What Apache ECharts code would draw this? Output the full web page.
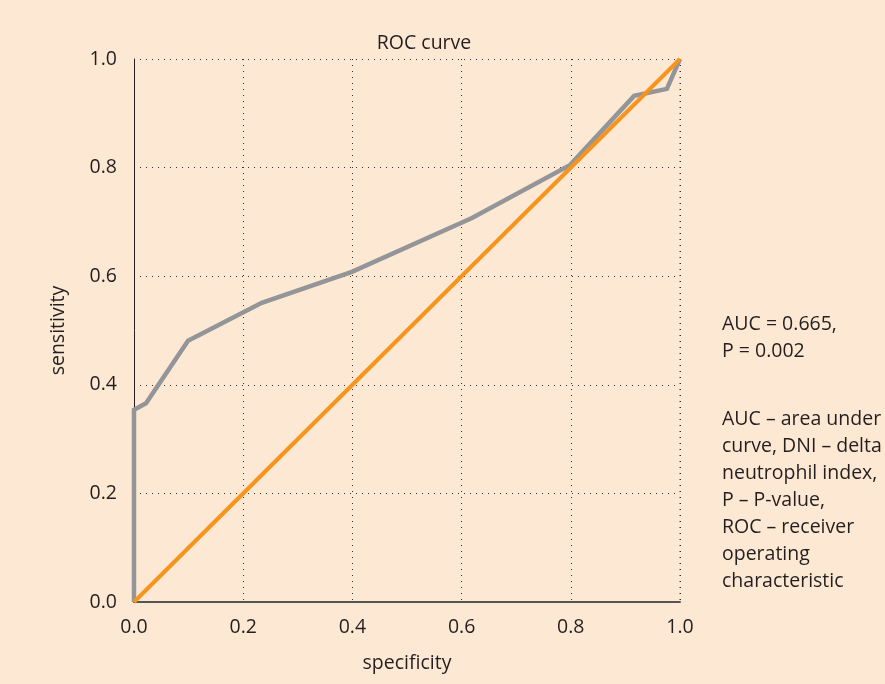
<!DOCTYPE html>
<html>
<head>
    <meta charset="utf-8">
    <title>ROC curve</title>
    <script src="https://cdn.jsdelivr.net/npm/echarts@6/dist/echarts.min.js"></script>
    <style type="text/css">
        * { margin: 0; padding: 0; }
        body { background: #fde9d3; }
        #main { width: 885px; height: 684px; }
    </style>
</head>
<body>
<div id="main"></div>
<script type="text/javascript">
    // ROC 曲线数据 (specificity, sensitivity)
    var rocX = [0, 0, 0.022, 0.099, 0.234, 0.399, 0.619, 0.799, 0.916, 0.976, 1.0];
    var rocY = [0, 0.354, 0.366, 0.481, 0.551, 0.608, 0.707, 0.805, 0.932, 0.945, 1.0];
    // 参考对角线
    var refX = [0, 1];
    var refY = [0, 1];
    var tickLabels = ['0.0', '0.2', '0.4', '0.6', '0.8', '1.0'];
    var statLines = ['AUC = 0.665,', 'P = 0.002'];
    var abbrLines = ['AUC – area under', 'curve, DNI – delta', 'neutrophil index,',
        'P – P-value,', 'ROC – receiver', 'operating', 'characteristic'];

    function pairs(xs, ys) {
        var out = [];
        for (var i = 0; i < xs.length; i++) out.push([xs[i], ys[i]]);
        return out;
    }

    var font = '"Open Sans", "Noto Sans", sans-serif';
    var textColor = '#231f20';
    var dotted = { type: [1, 5], color: '#333', width: 1 };

    var myChart = echarts.init(document.getElementById('main'));
    var option = {
        backgroundColor: '#fde9d3',
        animation: false,
        textStyle: { fontFamily: font },
        title: {
            text: 'ROC curve',
            left: 419,
            top: 28,
            textAlign: 'center',
            textStyle: { fontSize: 19.5, fontWeight: 'normal', color: textColor, fontFamily: font }
        },
        grid: { left: 134, right: 205, top: 59, bottom: 82 },
        xAxis: {
            type: 'value', min: 0, max: 1, interval: 0.2,
            name: 'specificity', nameLocation: 'middle', nameGap: 51,
            nameTextStyle: { fontSize: 19.5, color: textColor, fontFamily: font },
            axisLine: { lineStyle: { color: '#555', width: 2 } },
            axisTick: { show: false },
            axisLabel: {
                fontSize: 19.5, color: textColor, margin: 15, fontFamily: font,
                formatter: function (v) { return tickLabels[Math.round(v * 5)]; }
            },
            splitLine: { show: true, lineStyle: dotted }
        },
        yAxis: {
            type: 'value', min: 0, max: 1, interval: 0.2,
            name: 'sensitivity', nameLocation: 'middle', nameGap: 66,
            nameTextStyle: { fontSize: 19.5, color: textColor, fontFamily: font },
            axisLine: { show: true, lineStyle: { color: '#231f20', width: 1 } },
            axisTick: { show: false },
            axisLabel: {
                fontSize: 19.5, color: textColor, margin: 17, fontFamily: font,
                formatter: function (v) { return tickLabels[Math.round(v * 5)]; }
            },
            splitLine: { show: true, lineStyle: dotted }
        },
        graphic: [{
            type: 'text',
            left: 722,
            top: 311,
            style: {
                text: statLines.join('\n'),
                font: '19.5px ' + font,
                fill: textColor,
                lineHeight: 27
            }
        }, {
            type: 'text',
            left: 722,
            top: 406,
            style: {
                text: abbrLines.join('\n'),
                font: '19.5px ' + font,
                fill: textColor,
                lineHeight: 27
            }
        }, {
            // 右边框虚线
            type: 'line',
            shape: { x1: 680, y1: 59, x2: 680, y2: 602 },
            style: { stroke: '#333', lineDash: [1, 5], lineWidth: 1 },
            z: 1
        }],
        series: [{
            name: 'ROC',
            type: 'line',
            data: pairs(rocX, rocY),
            symbol: 'none',
            lineStyle: { color: '#939598', width: 4.5, join: 'miter' },
            z: 3
        }, {
            name: 'reference',
            type: 'line',
            data: pairs(refX, refY),
            symbol: 'none',
            lineStyle: { color: '#f7941d', width: 4 },
            z: 4
        }]
    };
    myChart.setOption(option);
</script>
</body>
</html>
